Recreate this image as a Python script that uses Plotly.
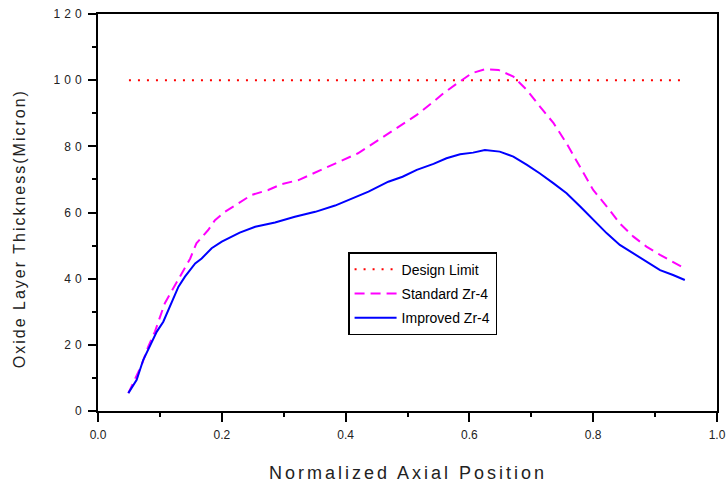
import plotly.graph_objects as go

# Data
design_x = [0.05, 0.95]
design_y = [100, 100]

std_x = [0.049, 0.060, 0.0705, 0.081, 0.092, 0.108, 0.122, 0.135, 0.149, 0.159, 0.178, 0.189,
         0.205, 0.227, 0.248, 0.275, 0.297, 0.324, 0.361, 0.394, 0.420, 0.453, 0.490, 0.515,
         0.542, 0.558, 0.580, 0.604, 0.625, 0.647, 0.671, 0.693, 0.714, 0.736, 0.757, 0.779,
         0.800, 0.822, 0.843, 0.865, 0.886, 0.908, 0.929, 0.948]
std_y = [5.4, 9.9, 13.9, 19.4, 24.0, 32.6, 37.1, 41.6, 46.1, 50.7, 54.7, 57.7,
         60.2, 62.8, 65.3, 66.8, 68.6, 69.8, 72.9, 75.9, 77.9, 81.9, 86.5, 89.5,
         93.5, 96.0, 99.0, 102.1, 103.3, 103.1, 101.1, 97.0, 92.0, 87.0, 80.9, 73.9,
         66.8, 61.8, 56.7, 52.7, 49.7, 47.2, 45.1, 43.1]

imp_x = [0.049, 0.0625, 0.073, 0.081, 0.095, 0.1055, 0.111, 0.122, 0.130, 0.1405, 0.157, 0.1675,
         0.1836, 0.200, 0.2105, 0.229, 0.254, 0.286, 0.318, 0.351, 0.383, 0.404, 0.437, 0.469,
         0.492, 0.515, 0.542, 0.563, 0.585, 0.606, 0.625, 0.649, 0.671, 0.693, 0.714, 0.736,
         0.757, 0.779, 0.800, 0.822, 0.843, 0.865, 0.886, 0.908, 0.929, 0.948]
imp_y = [5.4, 9.4, 15.4, 18.4, 24.0, 27.0, 29.5, 34.0, 37.6, 40.6, 44.6, 46.1,
         49.2, 51.2, 52.2, 53.9, 55.7, 57.0, 58.7, 60.2, 62.1, 63.8, 66.3, 69.3,
         70.8, 72.9, 74.7, 76.4, 77.6, 78.1, 78.9, 78.4, 76.9, 74.4, 71.8, 68.8,
         65.8, 61.8, 57.7, 53.7, 50.2, 47.7, 45.1, 42.6, 41.1, 39.6]

y_tickvals = [0, 20, 40, 60, 80, 100, 120]
y_ticktext = ["0", "20", "40", "60", "80", "100", "120"]
x_tickvals = [0.0, 0.2, 0.4, 0.6, 0.8, 1.0]
x_ticktext = ["0.0", "0.2", "0.4", "0.6", "0.8", "1.0"]

x_title = "Normalized Axial Position"
y_title = "Oxide Layer Thickness(Micron)"

FONT = "Arial, Liberation Sans, sans-serif"


def spaced(text, px):
    return f'<span style="letter-spacing:{px}px">{text}</span>'


fig = go.Figure()
fig.add_trace(go.Scatter(x=design_x, y=design_y, mode="lines", name="Design Limit",
                         line=dict(color="#ff0000", width=2, dash="2px,7px"), legendgroup="a"))
fig.add_trace(go.Scatter(x=std_x, y=std_y, mode="lines", name="Standard Zr-4",
                         line=dict(color="#ff00ff", width=2, dash="10px,6px"), legendgroup="b"))
fig.add_trace(go.Scatter(x=imp_x, y=imp_y, mode="lines", name="Improved Zr-4",
                         line=dict(color="#0000ff", width=2), legendgroup="c"))

fig.update_layout(
    width=728, height=490,
    margin=dict(l=98, r=11, t=14, b=79),
    paper_bgcolor="white", plot_bgcolor="white",
    font=dict(family=FONT, size=12, color="#000000"),
    showlegend=True,
    legend=dict(x=0.404, y=0.40, xanchor="left", yanchor="top",
                bgcolor="white", bordercolor="black", borderwidth=1.5,
                font=dict(family=FONT, size=14, color="#000000"),
                itemwidth=42,
                traceorder="grouped", tracegroupgap=3),
    annotations=[
        dict(text=spaced(x_title, 3), xref="paper", yref="paper", x=0.5, y=-0.156,
             xanchor="center", yanchor="middle", showarrow=False,
             font=dict(family=FONT, size=18, color="#222222")),
        dict(text=spaced(y_title, 2), xref="paper", yref="paper", x=-0.1276, y=0.458,
             xanchor="center", yanchor="middle", showarrow=False, textangle=-90,
             font=dict(family=FONT, size=16, color="#222222")),
    ],
)
fig.update_xaxes(
    range=[0, 1], tickvals=x_tickvals, ticktext=x_ticktext, automargin=False,
    showline=True, linecolor="black", linewidth=2, mirror=True,
    ticks="outside", ticklen=9, tickwidth=1.5, tickcolor="black", ticklabelstandoff=3,
    minor=dict(dtick=0.1, ticks="outside", ticklen=4, tickwidth=1.5, tickcolor="black"),
    showgrid=False, zeroline=False,
    tickfont=dict(family=FONT, size=12, color="#222222"),
)
fig.update_yaxes(
    range=[0, 120], tickvals=y_tickvals, ticktext=[spaced(t, 4) for t in y_ticktext],
    automargin=False,
    showline=True, linecolor="black", linewidth=2, mirror=True,
    ticks="outside", ticklen=8, tickwidth=1.5, tickcolor="black",
    minor=dict(dtick=10, ticks="outside", ticklen=4, tickwidth=1.5, tickcolor="black"),
    showgrid=False, zeroline=False,
    tickfont=dict(family=FONT, size=12, color="#222222"),
)

fig.write_html("out.html", config={"displayModeBar": False},
               post_script="document.body.style.margin='0px';document.body.style.overflow='hidden';")
